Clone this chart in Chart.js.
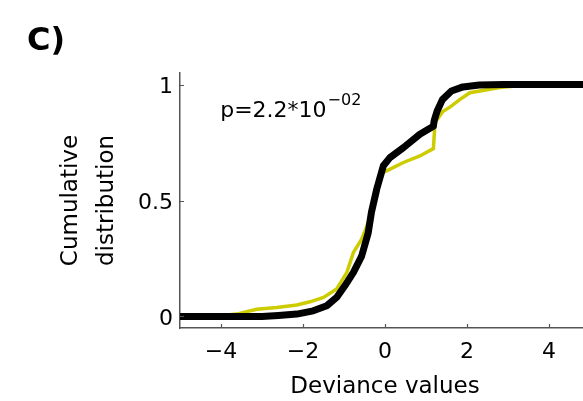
<!DOCTYPE html>
<html>
<head>
<meta charset="utf-8">
<script src="https://cdn.jsdelivr.net/npm/chart.js@4/dist/chart.umd.min.js"></script>
<style>
  html, body { margin: 0; padding: 0; overflow: hidden; background: #fff; }
</style>
</head>
<body>
<canvas id="myChart" width="600" height="401"></canvas>
<script>
// black curve (thick)
const blackX = [-5, -3.0, -2.6, -2.15, -1.75, -1.42, -1.18, -0.98, -0.77, -0.57, -0.41, -0.33, -0.2, -0.04, 0.12, 0.45, 0.85, 1.18, 1.2, 1.27, 1.4, 1.62, 1.9, 2.3, 2.9, 5];
const blackY = [0, 0, 0.004, 0.01, 0.024, 0.046, 0.082, 0.132, 0.19, 0.26, 0.36, 0.45, 0.55, 0.65, 0.685, 0.728, 0.786, 0.82, 0.845, 0.885, 0.935, 0.972, 0.99, 0.998, 1, 1];
// yellow curve (thin)
const yellowX = [-5, -4.2, -3.62, -3.13, -2.64, -2.15, -1.83, -1.5, -1.18, -0.93, -0.77, -0.57, -0.45, -0.33, -0.2, -0.06, 0.04, 0.45, 0.85, 1.18, 1.22, 1.41, 1.6, 1.83, 2.07, 2.49, 2.8, 3.13, 3.3, 5];
const yellowY = [0, 0, 0.01, 0.031, 0.038, 0.049, 0.063, 0.082, 0.118, 0.19, 0.276, 0.333, 0.385, 0.455, 0.55, 0.62, 0.628, 0.664, 0.692, 0.724, 0.836, 0.884, 0.905, 0.936, 0.965, 0.978, 0.987, 0.993, 1, 1];

const xTickValues = [-4, -2, 0, 2, 4];
const yTickValues = [0, 0.5, 1];
const xTickLabels = ['\u22124', '\u22122', '0', '2', '4'];
const yTickLabels = ['0', '0.5', '1'];

const FONT = 'DejaVu Sans';
const axisColor = '#555';

function toPoints(xs, ys) {
  return xs.map((x, i) => ({x: x, y: ys[i]}));
}

const extras = {
  id: 'extras',
  afterDraw(chart) {
    const ctx = chart.ctx;
    const xs = chart.scales.x, ys = chart.scales.y;
    const area = chart.chartArea;
    ctx.save();
    // inward tick marks
    ctx.strokeStyle = axisColor;
    ctx.lineWidth = 1.2;
    ctx.beginPath();
    xTickValues.forEach(v => {
      const px = Math.round(xs.getPixelForValue(v)) + 0.5;
      ctx.moveTo(px, area.bottom);
      ctx.lineTo(px, area.bottom - 4);
    });
    yTickValues.forEach(v => {
      const py = Math.round(ys.getPixelForValue(v)) + 0.5;
      ctx.moveTo(area.left, py);
      ctx.lineTo(area.left + 4, py);
    });
    ctx.stroke();

    // p-value annotation
    ctx.fillStyle = '#000';
    ctx.textBaseline = 'alphabetic';
    ctx.textAlign = 'left';
    ctx.font = '22px "' + FONT + '"';
    const tx = xs.getPixelForValue(-4.02);
    const ty = ys.getPixelForValue(0.86);
    const main = 'p=2.2*10';
    ctx.fillText(main, tx, ty);
    const w = ctx.measureText(main).width;
    ctx.font = '16px "' + FONT + '"';
    ctx.fillText('\u221202', tx + w + 1, ty - 12);

    // panel letter
    ctx.font = 'bold 32px "' + FONT + '"';
    ctx.fillText('C)', 27, 50);
    ctx.restore();
  }
};

const chart = new Chart(document.getElementById('myChart'), {
  type: 'line',
  data: {
    datasets: [
      {
        data: toPoints(blackX, blackY),
        borderColor: '#000',
        borderWidth: 7,
        pointRadius: 0,
        tension: 0,
        borderJoinStyle: 'round',
        borderCapStyle: 'butt'
      },
      {
        data: toPoints(yellowX, yellowY),
        borderColor: '#cccc00',
        borderWidth: 3.5,
        pointRadius: 0,
        tension: 0
      }
    ]
  },
  options: {
    responsive: false,
    animation: false,
    layout: { padding: { left: 0, top: 73, right: 10, bottom: 0 } },
    plugins: { legend: { display: false }, tooltip: { enabled: false } },
    scales: {
      x: {
        type: 'linear',
        min: -5,
        max: 5,
        afterBuildTicks: s => { s.ticks = xTickValues.map(v => ({value: v})); },
        afterFit: s => { s.height = 73; },
        grid: { display: false, drawTicks: false },
        border: { display: true, color: axisColor, width: 1.5 },
        ticks: {
          padding: 11,
          color: '#000',
          font: { family: FONT, size: 22 },
          maxRotation: 0,
          callback: (v) => xTickLabels[xTickValues.indexOf(v)]
        },
        title: {
          display: true,
          text: 'Deviance values',
          color: '#000',
          font: { family: FONT, size: 23 },
          padding: { top: 0, bottom: 0 }
        }
      },
      y: {
        type: 'linear',
        min: -0.05,
        max: 1.05,
        afterBuildTicks: s => { s.ticks = yTickValues.map(v => ({value: v})); },
        afterFit: s => { s.width = 180; },
        grid: { display: false, drawTicks: false },
        border: { display: true, color: axisColor, width: 1.5 },
        ticks: {
          padding: 7,
          labelOffset: 3,
          color: '#000',
          font: { family: FONT, size: 22 },
          callback: (v) => yTickLabels[yTickValues.indexOf(v)]
        },
        title: {
          display: true,
          text: ['Cumulative', 'distribution'],
          color: '#000',
          font: { family: FONT, size: 23, lineHeight: 1.56 },
          padding: { top: 53, bottom: 0 }
        }
      }
    }
  },
  plugins: [extras]
});
</script>
</body>
</html>
